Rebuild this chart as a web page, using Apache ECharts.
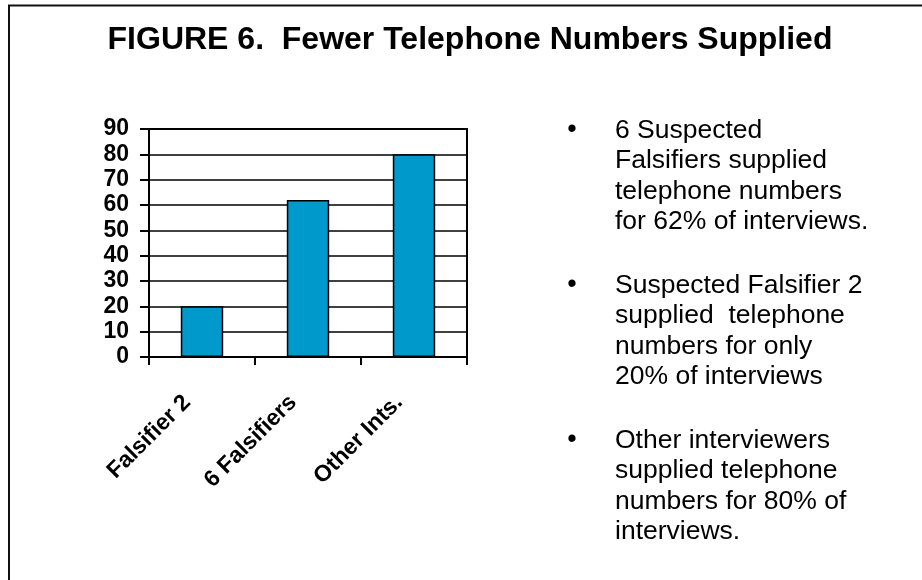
<!DOCTYPE html>
<html>
<head>
<meta charset="utf-8">
<title>FIGURE 6. Fewer Telephone Numbers Supplied</title>
<script src="https://cdn.jsdelivr.net/npm/echarts@6/dist/echarts.min.js"></script>
<style>
  html, body { margin: 0; padding: 0; background: #ffffff; }
  #chart { width: 922px; height: 580px; }
</style>
</head>
<body>
<div id="chart"></div>
<script>
// Share of interviews with a telephone number supplied (%)
const categories = ['Falsifier 2', '6 Falsifiers', 'Other Ints.'];
const percentSupplied = [20, 62, 80];

// Value axis range and step
const yMin = 0;
const yMax = 90;
const yStep = 10;

const titleText = 'FIGURE 6.  Fewer Telephone Numbers Supplied';

// Bullet notes beside the chart
const notes = [
  '6 Suspected\nFalsifiers supplied\ntelephone numbers\nfor ' + percentSupplied[1] + '% of interviews.',
  'Suspected Falsifier 2\nsupplied  telephone\nnumbers for only\n' + percentSupplied[0] + '% of interviews',
  'Other interviewers\nsupplied telephone\nnumbers for ' + percentSupplied[2] + '% of\ninterviews.'
];
const noteTops = [115, 270, 425];

const chart = echarts.init(document.getElementById('chart'), null, { renderer: 'canvas' });

const font = 'Liberation Sans, Arial, Helvetica, sans-serif';

const graphics = [
  // page frame: left and top rules
  { type: 'line', shape: { x1: 9, y1: 5, x2: 9, y2: 580 }, style: { stroke: '#111', lineWidth: 2 }, silent: true },
  { type: 'line', shape: { x1: 8, y1: 5.5, x2: 922, y2: 5.5 }, style: { stroke: '#111', lineWidth: 2 }, silent: true },
  // heading
  {
    type: 'text', x: 470, y: 40,
    style: {
      text: titleText, fill: '#000', font: 'bold 32px ' + font,
      textAlign: 'center', textVerticalAlign: 'middle'
    }
  }
];

notes.forEach(function (txt, i) {
  graphics.push({
    type: 'text', x: 572, y: noteTops[i] + 15,
    style: { text: '\u2022', fill: '#000', font: '27px ' + font, textAlign: 'center', textVerticalAlign: 'middle' }
  });
  graphics.push({
    type: 'text', x: 615, y: noteTops[i],
    style: {
      text: txt, fill: '#000', font: '26.5px ' + font,
      lineHeight: 30.5, textAlign: 'left', textVerticalAlign: 'top'
    }
  });
});

chart.setOption({
  backgroundColor: '#ffffff',
  animation: false,
  graphic: graphics,
  grid: {
    left: 149, right: 455, top: 129, bottom: 223,
    show: true, borderColor: '#000', borderWidth: 2, backgroundColor: 'transparent'
  },
  xAxis: {
    type: 'category',
    data: categories,
    boundaryGap: true,
    axisLine: { show: true, lineStyle: { color: '#000', width: 2 } },
    axisTick: { show: true, length: 8, alignWithLabel: false, lineStyle: { color: '#000', width: 2 } },
    axisLabel: {
      rotate: 45, margin: 27, interval: 0, padding: [0, 21, 0, 0],
      color: '#000', fontWeight: 'bold', fontSize: 23, fontFamily: font
    },
    splitLine: { show: false }
  },
  yAxis: {
    type: 'value',
    min: yMin, max: yMax, interval: yStep,
    axisLine: { show: true, lineStyle: { color: '#000', width: 2 } },
    axisTick: { show: true, length: 9, lineStyle: { color: '#000', width: 2 } },
    axisLabel: {
      margin: 20, color: '#000', fontWeight: 'bold', fontSize: 23, fontFamily: font
    },
    splitLine: { show: true, lineStyle: { color: '#000', width: 1.5 } }
  },
  series: [{
    type: 'bar',
    data: percentSupplied,
    barWidth: '40%',
    itemStyle: { color: '#0099cc', borderColor: '#000', borderWidth: 1.5 },
    label: { show: false }
  }]
});
</script>
</body>
</html>
